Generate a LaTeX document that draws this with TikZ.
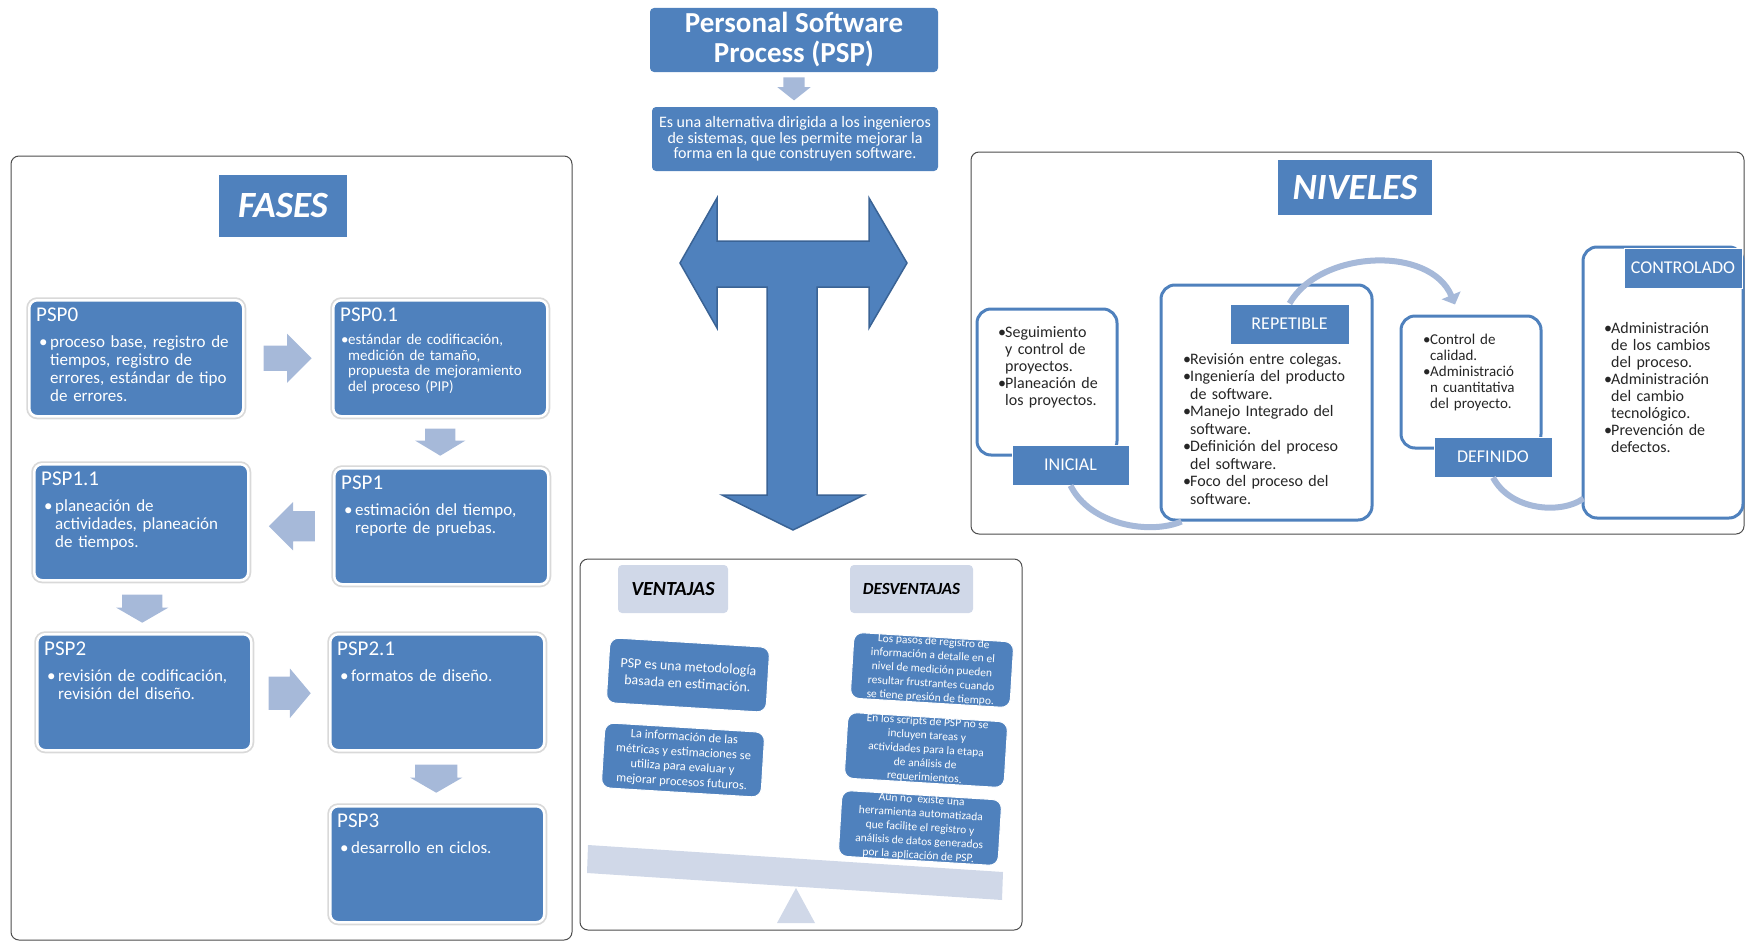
\documentclass[tikz,border=0pt]{standalone}
\usepackage{fontspec}
\setmainfont{Carlito}
\usetikzlibrary{positioning}
\usetikzlibrary{calc}
\usetikzlibrary{shapes.arrows}
\usetikzlibrary{arrows.meta}
\tikzset{>=latex}
\definecolor{pspblue}{HTML}{4F81BD}
\definecolor{pspdark}{HTML}{3A6395}
\definecolor{psplight}{HTML}{A6B9D9}
\definecolor{pspgray}{HTML}{D0D8E8}
\newcommand{\fsz}[2]{\fontsize{#1}{#2}\selectfont}
\newcommand{\fitem}[2][11pt]{\hangindent=#1\hangafter=1\noindent\makebox[#1][l]{\textbullet}#2\par}
\newcommand{\nitem}[1]{\hangindent=7pt\hangafter=1\noindent\makebox[7pt][l]{\textbullet}#1\par}
\tikzstyle{panel}=[draw=black!70,line width=1pt,rounded corners=8pt,inner sep=0pt]
\tikzstyle{titlebox}=[fill=pspblue,inner sep=0pt,text=white,font=\bfseries\itshape\fsz{37}{40}]
\tikzstyle{headbox}=[fill=pspblue,rounded corners=4pt,inner sep=0pt,text=white,align=center]
\tikzstyle{fasebox}=[fill=pspblue,draw=white,line width=2.5pt,rounded corners=8pt,preaction={draw=black!15,line width=6pt},inner sep=0pt,minimum width=214pt,minimum height=116pt,anchor=north west]
\tikzstyle{fasetit}=[anchor=north west,inner sep=0pt,text=white,font=\fsz{21}{22}]
\tikzstyle{fasetxt}=[anchor=north west,inner sep=0pt,text=white,text width=200pt,align=left,font=\fsz{17}{18}]
\tikzstyle{blockarrow}=[single arrow,fill=psplight,inner xsep=0pt,anchor=tail,single arrow head indent=0pt]
\tikzstyle{lvframe}=[draw=pspblue,line width=3pt,fill=white,rounded corners=14pt,inner sep=0pt]
\tikzstyle{lvlabel}=[fill=pspblue,draw=white,line width=1pt,inner sep=0pt,minimum height=40pt,text=white,font=\fsz{18}{20}]
\tikzstyle{lvtxt}=[anchor=north west,inner sep=0pt,text=black!85,align=left,font=\fsz{16}{17}]
\tikzstyle{lvarc}=[draw=psplight,line width=6pt]
\tikzstyle{vlabel}=[fill=pspgray,rounded corners=4pt,inner sep=0pt,minimum height=48pt]
\tikzstyle{vbox}=[fill=pspblue,draw=white,line width=1pt,rounded corners=9pt,inner sep=0pt,minimum width=160pt,minimum height=65pt,rotate=-3.5,text=white,align=center]

\begin{document}
\begin{tikzpicture}[x=1pt,y=-1pt]
	\useasboundingbox (0,0) rectangle (1747,942);

	% Panels
	\node[panel,minimum width=561pt,minimum height=784pt] (fasespanel) at (291.5,548) {};
	\node[panel,minimum width=773pt,minimum height=382pt] (nivpanel) at (1357.5,343) {};
	\node[panel,minimum width=442pt,minimum height=371pt] (ventpanel) at (801,744.5) {};

	% Header
	\node[headbox,minimum width=288pt,minimum height=64pt,font=\bfseries\fsz{29}{30}] (psptitle) at (794,40) {Personal Software\\Process (PSP)};
	\node[headbox,minimum width=286pt,minimum height=64pt,font=\fsz{16}{15.5}] (pspdesc) at (795,139) {Es una alternativa dirigida a los ingenieros\\de sistemas, que les permite mejorar la\\forma en la que construyen software.};
	\node[blockarrow,rotate=270,minimum height=23pt,inner ysep=10.5pt,single arrow head extend=6pt,single arrow tip angle=103] (ar00) at ($(psptitle.south)+(0,5)$) {};

	% T arrow
	\filldraw[fill=pspblue,draw=pspdark,line width=1.5pt] (680,263) -- (717,198) -- (717,241) -- (869,241) -- (869,198) -- (907,263) -- (869,328) -- (869,287) -- (817,287) -- (817,495) -- (864,495) -- (793,530) -- (722,495) -- (767,495) -- (767,287) -- (717,287) -- (717,328) -- cycle;

	% Fases
	\node[titlebox,minimum width=128pt,minimum height=62pt] (fasestitle) at (283,206) {FASES};
	\node[fasebox] (psp0) at (28,299) {};
	\node[fasebox] (psp01) at (332,299) {};
	\node[fasebox] (psp11) at (33,463) {};
	\node[fasebox] (psp1) at (333,467) {};
	\node[fasebox] (psp2) at (36,633) {};
	\node[fasebox] (psp21) at (329,633) {};
	\node[fasebox] (psp3) at (329,805) {};
	\node[fasetit] (psp0h) at ($(psp0.north west)+(8,9)$) {PSP0};
	\node[fasetxt] (psp0t) at ($(psp0.north west)+(11,36)$) {\fitem{proceso base, registro de\newline tiempos, registro de\newline errores, estándar de tipo\newline de errores.}};
	\node[fasetit] (psp01h) at ($(psp01.north west)+(8,9)$) {PSP0.1};
	\node[fasetxt,font=\fsz{15}{15.6}] (psp01t) at ($(psp01.north west)+(9,35)$) {\fitem[7pt]{estándar de codificación,\newline medición de tamaño,\newline propuesta de mejoramiento\newline del proceso (PIP)}};
	\node[fasetit] (psp11h) at ($(psp11.north west)+(8,9)$) {PSP1.1};
	\node[fasetxt] (psp11t) at ($(psp11.north west)+(11,36)$) {\fitem{planeación de\newline actividades, planeación\newline de tiempos.}};
	\node[fasetit] (psp1h) at ($(psp1.north west)+(8,9)$) {PSP1};
	\node[fasetxt] (psp1t) at ($(psp1.north west)+(11,36)$) {\fitem{estimación del tiempo,\newline reporte de pruebas.}};
	\node[fasetit] (psp2h) at ($(psp2.north west)+(8,9)$) {PSP2};
	\node[fasetxt] (psp2t) at ($(psp2.north west)+(11,36)$) {\fitem{revisión de codificación,\newline revisión del diseño.}};
	\node[fasetit] (psp21h) at ($(psp21.north west)+(8,9)$) {PSP2.1};
	\node[fasetxt] (psp21t) at ($(psp21.north west)+(11,36)$) {\fitem{formatos de diseño.}};
	\node[fasetit] (psp3h) at ($(psp3.north west)+(8,9)$) {PSP3};
	\node[fasetxt] (psp3t) at ($(psp3.north west)+(11,36)$) {\fitem{desarrollo en ciclos.}};
	\node[blockarrow,minimum height=48pt,inner ysep=12.5pt,single arrow head extend=12pt] (ar01) at ($(psp0.east)+(19,0)$) {};
	\node[blockarrow,rotate=270,minimum height=27pt,inner ysep=15pt,single arrow head extend=10pt,single arrow tip angle=118] (ar11) at ($(psp01.south)+(0,11)$) {};
	\node[blockarrow,rotate=180,minimum height=46pt,inner ysep=15pt,single arrow head extend=9pt] (ar12) at ($(psp1.west)+(-18,0)$) {};
	\node[blockarrow,rotate=270,minimum height=28pt,inner ysep=20pt,single arrow head extend=6pt,single arrow tip angle=120] (ar22) at ($(psp11.south)+(1,13)$) {};
	\node[blockarrow,minimum height=42pt,inner ysep=16.5pt,single arrow head extend=8pt,single arrow tip angle=100] (ar21) at ($(psp2.east)+(16,1)$) {};
	\node[blockarrow,rotate=270,minimum height=28pt,inner ysep=21pt,single arrow head extend=5pt,single arrow tip angle=120] (ar33) at ($(psp21.south)+(-1,13)$) {};

	% Niveles
	\node[titlebox,minimum width=154pt,minimum height=55pt] (nivtitle) at (1355,187.5) {NIVELES};
	\node[lvframe,minimum width=140pt,minimum height=146pt] (inifr) at (1047,382) {};
	\node[lvframe,minimum width=211pt,minimum height=235pt] (repfr) at (1266.5,402.5) {};
	\node[lvframe,minimum width=140pt,minimum height=132pt] (deffr) at (1471,382) {};
	\node[lvframe,minimum width=160pt,minimum height=271pt] (confr) at (1663,382.5) {};
	\node[lvlabel,minimum width=117pt] (inilab) at (1070.5,465) {INICIAL};
	\node[lvlabel,minimum width=119pt] (replab) at (1289.5,324) {REPETIBLE};
	\node[lvlabel,minimum width=118pt] (deflab) at (1493,457) {DEFINIDO};
	\node[lvlabel,minimum width=118pt] (conlab) at (1683,268) {CONTROLADO};
	\draw[lvarc] (inilab.south) .. controls (1090,525) and (1150,535) .. ($(repfr.south west)+(22,0)$);
	\draw[lvarc,-{Triangle[width=20pt,length=10pt]}] (replab.north) .. controls (1320,250) and (1430,245) .. ($(deffr.north)+(-16,-10)$);
	\draw[lvarc] (deflab.south) .. controls (1510,510) and (1560,515) .. ($(confr.south west)+(2,-21)$);
	\node[lvtxt,text width=115pt] (initxt) at (998,326) {\nitem{Seguimiento\newline y control de\newline proyectos.}\nitem{Planeación de\newline los proyectos.}};
	\node[lvtxt,text width=180pt,font=\fsz{16}{17.5}] (reptxt) at (1183,353) {\nitem{Revisión entre colegas.}\nitem{Ingeniería del producto\newline de software.}\nitem{Manejo Integrado del\newline software.}\nitem{Definición del proceso\newline del software.}\nitem{Foco del proceso del\newline software.}};
	\node[lvtxt,text width=115pt,font=\fsz{15}{16}] (deftxt) at (1423,334) {\nitem{Control de\newline calidad.}\nitem{Administració\newline n cuantitativa\newline del proyecto.}};
	\node[lvtxt,text width=130pt] (contxt) at (1604,322) {\nitem{Administración\newline de los cambios\newline del proceso.}\nitem{Administración\newline del cambio\newline tecnológico.}\nitem{Prevención de\newline defectos.}};

	% Ventajas / desventajas
	\fill[pspgray] (588,845) -- (1003,872) -- (1002,900) -- (587,873) -- cycle;
	\fill[pspgray] (796,888) -- (815,923) -- (777,923) -- cycle;
	\node[vlabel,minimum width=110pt,font=\bfseries\itshape\fsz{20}{22}] (ventlab) at (673,589) {VENTAJAS};
	\node[vlabel,minimum width=123pt,font=\bfseries\itshape\fsz{17}{20}] (desvlab) at (911.5,589) {DESVENTAJAS};
	\node[vbox,font=\fsz{14}{17}] (vent1) at (688,675) {PSP es una metodología\\basada en estimación.};
	\node[vbox,font=\fsz{12.5}{15}] (vent2) at (683,760) {La información de las\\métricas y estimaciones se\\utiliza para evaluar y\\mejorar procesos futuros.};
	\node[vbox,font=\fsz{11.5}{14}] (desv1) at (932,670) {Los pasos de registro de\\información a detalle en el\\nivel de medición pueden\\resultar frustrantes cuando\\se tiene presión de tiempo.};
	\node[vbox,font=\fsz{11.5}{14}] (desv2) at (926,750) {En los scripts de PSP no se\\incluyen tareas y\\actividades para la etapa\\de análisis de\\requerimientos.};
	\node[vbox,font=\fsz{11.5}{14}] (desv3) at (920,828) {Aún no\ \ existe una\\herramienta automatizada\\que facilite el registro y\\análisis de datos generados\\por la aplicación de PSP.};

\end{tikzpicture}
\end{document}
